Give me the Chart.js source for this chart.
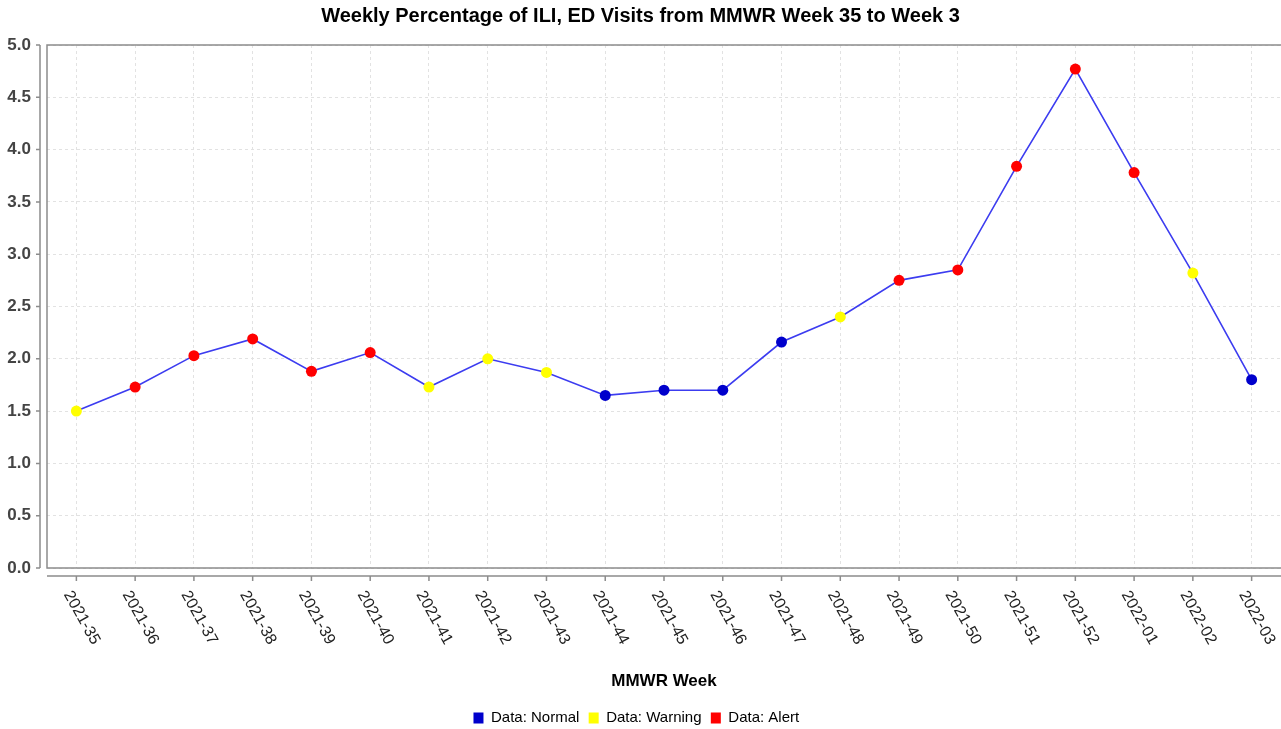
<!DOCTYPE html>
<html>
<head>
<meta charset="utf-8">
<title>Weekly Percentage of ILI</title>
<script src="https://cdn.jsdelivr.net/npm/chart.js@4.4.1/dist/chart.umd.min.js"></script>
<style>
  html, body { margin: 0; padding: 0; background: #fff; }
  canvas { display: block; }
</style>
</head>
<body>
<canvas id="iliChart" width="1281" height="729"></canvas>
<script>
// --- data ---
const weeks = ['2021-35', '2021-36', '2021-37', '2021-38', '2021-39', '2021-40', '2021-41',
  '2021-42', '2021-43', '2021-44', '2021-45', '2021-46', '2021-47', '2021-48', '2021-49',
  '2021-50', '2021-51', '2021-52', '2022-01', '2022-02', '2022-03'];
const iliPct = [1.50, 1.73, 2.03, 2.19, 1.88, 2.06, 1.73, 2.00, 1.87, 1.65, 1.70,
  1.70, 2.16, 2.40, 2.75, 2.85, 3.84, 4.77, 3.78, 2.82, 1.80];
const status = ['Warning', 'Alert', 'Alert', 'Alert', 'Alert', 'Alert', 'Warning',
  'Warning', 'Warning', 'Normal', 'Normal', 'Normal', 'Normal', 'Warning', 'Alert',
  'Alert', 'Alert', 'Alert', 'Alert', 'Warning', 'Normal'];
const levels = ['Normal', 'Warning', 'Alert'];
const yTicks = [0, 0.5, 1, 1.5, 2, 2.5, 3, 3.5, 4, 4.5, 5];

const levelColors = { Normal: '#0000cc', Warning: '#ffff00', Alert: '#ff0000' };
const FONT = '"Liberation Sans", Arial, sans-serif';
const AXIS_GRAY = '#8c8c8c';

// frame, detached axis lines and slanted week labels (JFreeChart look)
const axisDecor = {
  id: 'axisDecor',
  beforeDatasetsDraw(chart) {
    const { ctx, chartArea: a, scales: { x, y } } = chart;
    ctx.save();
    ctx.strokeStyle = AXIS_GRAY;
    ctx.lineWidth = 1.5;
    ctx.beginPath();
    ctx.moveTo(a.right, a.top);
    ctx.lineTo(a.left, a.top);
    ctx.lineTo(a.left, a.bottom);
    ctx.lineTo(a.right, a.bottom);
    ctx.stroke();

    // y axis line, set off from the plot
    const yAxisX = a.left - 7;
    ctx.beginPath();
    ctx.moveTo(yAxisX, a.top);
    ctx.lineTo(yAxisX, a.bottom);
    yTicks.forEach(v => {
      const py = y.getPixelForValue(v);
      ctx.moveTo(yAxisX - 4, py);
      ctx.lineTo(yAxisX, py);
    });
    ctx.stroke();

    // x axis line, set off below the plot
    const xAxisY = a.bottom + 8;
    ctx.beginPath();
    ctx.moveTo(a.left, xAxisY);
    ctx.lineTo(a.right, xAxisY);
    weeks.forEach((w, i) => {
      const px = x.getPixelForValue(i);
      ctx.moveTo(px, xAxisY);
      ctx.lineTo(px, xAxisY + 5);
    });
    ctx.stroke();
    ctx.restore();
  },
  afterDraw(chart) {
    const { ctx, chartArea: a, scales: { x } } = chart;
    ctx.save();
    ctx.fillStyle = '#222';
    ctx.font = '16px ' + FONT;
    ctx.textAlign = 'left';
    ctx.textBaseline = 'middle';
    weeks.forEach((w, i) => {
      const px = x.getPixelForValue(i);
      ctx.save();
      ctx.translate(px - 9, a.bottom + 24);
      ctx.rotate(61 * Math.PI / 180);
      ctx.fillText(w, 0, 0);
      ctx.restore();
    });
    ctx.restore();
  }
};

const data = {
  labels: weeks,
  datasets: [{
    label: 'Data',
    data: iliPct,
    borderColor: '#3c3cf0',
    borderWidth: 1.6,
    pointBackgroundColor: status.map(s => levelColors[s]),
    pointBorderWidth: 0,
    pointRadius: 5.5,
    pointHoverRadius: 6,
    tension: 0
  }]
};

const config = {
  type: 'line',
  data: data,
  options: {
    responsive: false,
    animation: false,
    layout: { autoPadding: false, padding: { top: 0, left: 0, right: 0, bottom: -6.5 } },
    plugins: {
      title: {
        display: true,
        text: 'Weekly Percentage of ILI, ED Visits from MMWR Week 35 to Week 3',
        color: '#000',
        font: { family: FONT, size: 20, weight: 'bold' },
        padding: { top: 4, bottom: 17 }
      },
      legend: {
        position: 'bottom',
        labels: {
          boxWidth: 10,
          boxHeight: 11,
          padding: 1,
          color: '#000',
          font: { family: FONT, size: 15 },
          generateLabels: () => levels.map(l => ({
            text: 'Data: ' + l + '  ',
            fillStyle: levelColors[l],
            strokeStyle: levelColors[l],
            lineWidth: 0,
            hidden: false,
            datasetIndex: 0
          }))
        }
      },
      tooltip: { enabled: true }
    },
    scales: {
      x: {
        offset: true,
        grid: { color: '#e2e2e2', lineWidth: 1, drawTicks: false },
        border: { display: false, dash: [3, 3] },
        ticks: { display: false },
        title: {
          display: true,
          text: 'MMWR Week',
          color: '#000',
          font: { family: FONT, size: 17, weight: 'bold' },
          padding: { top: 0, bottom: 18.3 }
        },
        afterFit: scale => { scale.height = 141.5; }
      },
      y: {
        min: 0,
        max: 5,
        afterBuildTicks: scale => { scale.ticks = yTicks.map(v => ({ value: v })); },
        grid: { color: '#e2e2e2', lineWidth: 1, drawTicks: false },
        border: { display: false, dash: [3, 3] },
        ticks: {
          color: '#444',
          padding: 16,
          font: { family: FONT, size: 17, weight: 'bold' },
          callback: v => Number(v).toFixed(1)
        },
        afterFit: scale => { scale.width = 47; }
      }
    }
  },
  plugins: [axisDecor]
};

new Chart(document.getElementById('iliChart').getContext('2d'), config);
</script>
</body>
</html>
